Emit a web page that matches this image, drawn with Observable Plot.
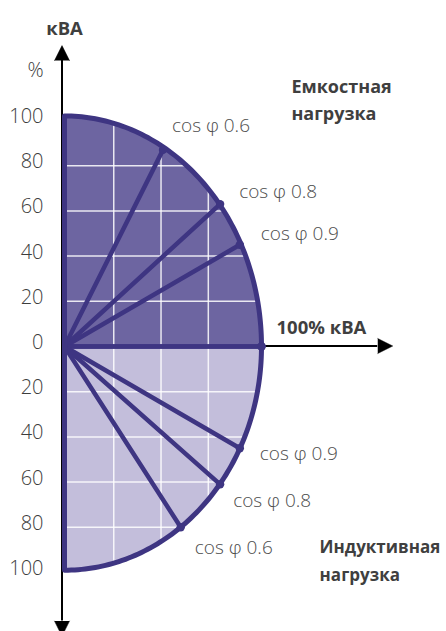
<!DOCTYPE html>
<html>
<head>
<meta charset="utf-8">
<script src="https://cdn.jsdelivr.net/npm/d3@7"></script>
<script src="https://cdn.jsdelivr.net/npm/@observablehq/plot@0.6"></script>
<style>
  html, body { margin: 0; padding: 0; background: #fff; }
  #chart { width: 446px; height: 631px; }
</style>
</head>
<body>
<div id="chart"></div>
<script>
// ---- data ----
const tickValues = [100, 80, 60, 40, 20, 0, -20, -40, -60, -80, -100];
const gridY = [80, 60, 40, 20, -20, -40, -60, -80];
const gridX = [25, 49, 73];

// 100% kVA boundary (x: active, y: reactive), per half
const kvaRadiusX = 100;
const capacitiveRadius = 102;
const inductiveRadius = 99;

// cos φ points, capacitive (upper) half
const capacitiveCos = [1, 0.9, 0.8, 0.6];
const capacitiveX = [100, 89, 79, 50];
const capacitiveY = [0, 45, 63, 87];

// cos φ points, inductive (lower) half
const inductiveCos = [1, 0.9, 0.8, 0.6];
const inductiveX = [100, 89, 79, 59];
const inductiveY = [0, -45, -61, -80];

const dark = "#6d65a1";
const light = "#c3bedb";
const ink = "#3e3582";
const textGrey = "#3f3f3f";

// ---- derived tables ----
const upperArc = d3.range(90, -0.5, -1).map(a => ({
  x: kvaRadiusX * Math.cos(a * Math.PI / 180),
  y: capacitiveRadius * Math.sin(a * Math.PI / 180)
}));
const lowerArc = d3.range(0, 90.5, 1).map(a => ({
  x: kvaRadiusX * Math.cos(a * Math.PI / 180),
  y: -inductiveRadius * Math.sin(a * Math.PI / 180)
}));
const outline = [...upperArc, ...lowerArc.slice(1)];

const points = [
  ...capacitiveCos.map((c, i) => ({cos: c, x: capacitiveX[i], y: capacitiveY[i], side: "cap", i})),
  ...inductiveCos.map((c, i) => ({cos: c, x: inductiveX[i], y: inductiveY[i], side: "ind", i}))
];
// label offsets (px) for cos φ labels
const labelOffsets = {
  cap: [null, [21, -11], [19, -12], [9, -24]],
  ind: [null, [20, 6], [13, 17], [14, 21]]
};
const labeled = points.filter(p => p.cos !== 1);

const hExtent = y => kvaRadiusX * Math.sqrt(Math.max(0, 1 - Math.pow(y / (y > 0 ? capacitiveRadius : inductiveRadius), 2)));
const vExtentUp = x => capacitiveRadius * Math.sqrt(1 - Math.pow(x / kvaRadiusX, 2));
const vExtentDown = x => -inductiveRadius * Math.sqrt(1 - Math.pow(x / kvaRadiusX, 2));

const font = "'Open Sans', Roboto, sans-serif";

const cosLabels = labeled.map(d => Plot.text([d], {
  x: "x", y: "y",
  text: p => "cos φ " + p.cos.toFixed(1),
  dx: labelOffsets[d.side][d.i][0],
  dy: labelOffsets[d.side][d.i][1],
  textAnchor: "start", fontSize: 19, fontWeight: 300, fill: "#4d4d4d"
}));

const chart = Plot.plot({
  width: 446,
  height: 631,
  margin: 0,
  x: {domain: [0, 100], range: [64, 261], axis: null},
  y: {domain: [-100, 100], range: [572, 120], axis: null},
  style: {fontFamily: font, background: "#fff"},
  marks: [
    // black axes
    Plot.ruleX([0], {y1: -121.5, y2: 126.5, stroke: "black", strokeWidth: 2, dx: -2.5}),
    Plot.ruleY([0], {x1: 0, x2: 159, stroke: "black", strokeWidth: 2, dy: -0.5}),
    Plot.vector([0], {x: 0, y: 126.5, dx: -2.5, length: 15, r: 7.5, rotate: 0, anchor: "start", shape: "spike", fill: "black", stroke: "black", strokeWidth: 0.5}),
    Plot.vector([0], {x: 159, y: 0, dy: -0.5, length: 15, r: 7.5, rotate: 90, anchor: "start", shape: "spike", fill: "black", stroke: "black", strokeWidth: 0.5}),
    Plot.vector([0], {x: 0, y: -121.5, dx: -2.5, length: 15, r: 7.5, rotate: 180, anchor: "start", shape: "spike", fill: "black", stroke: "black", strokeWidth: 0.5}),

    // fills
    Plot.area(upperArc, {x1: "x", y1: 0, y2: "y", fill: dark}),
    Plot.area(lowerArc, {x1: "x", y1: 0, y2: "y", fill: light}),

    // white grid
    Plot.ruleY(gridY, {x1: 0, x2: d => hExtent(d), stroke: "white", strokeWidth: 1.5, strokeOpacity: 0.85}),
    Plot.ruleX(gridX, {y1: d => vExtentDown(d), y2: d => vExtentUp(d), stroke: "white", strokeWidth: 1.5, strokeOpacity: 0.85}),

    // radial lines
    Plot.link(points, {x1: 0, y1: 0, x2: "x", y2: "y", stroke: ink, strokeWidth: 4.5, strokeLinecap: "round"}),

    // outline
    Plot.line(outline, {x: "x", y: "y", stroke: ink, strokeWidth: 5}),
    Plot.ruleX([0], {y1: -inductiveRadius, y2: capacitiveRadius, stroke: ink, strokeWidth: 5}),

    // dots
    Plot.dot(points, {x: "x", y: "y", r: 4.2, fill: ink}),

    // tick labels
    Plot.text(tickValues, {x: 0, y: d => d, text: d => String(Math.abs(d)), dx: -21, dy: -4, textAnchor: "end", fontSize: 20, fontWeight: 300, fill: "#3d3d3d"}),

    // cos φ labels
    ...cosLabels,

    // annotations
    Plot.text(["кВА"], {x: 0, y: 140.5, textAnchor: "middle", fontSize: 18.5, fontWeight: 700, fill: textGrey}),
    Plot.text(["%"], {x: 0, y: 122, dx: -29, textAnchor: "middle", fontSize: 20, fontWeight: 300, fill: "#3d3d3d"}),
    Plot.text(["100% кВА"], {x: 100, y: 0, dx: 15, dy: -18, textAnchor: "start", fontSize: 18.5, fontWeight: 700, fill: textGrey}),
    Plot.text(["Емкостная\nнагрузка"], {x: 115.2, y: 110, textAnchor: "start", lineHeight: 1.5, fontSize: 18, fontWeight: 700, fill: textGrey}),
    Plot.text(["Индуктивная\nнагрузка"], {x: 129.5, y: -93.6, textAnchor: "start", lineHeight: 1.65, fontSize: 17, fontWeight: 700, fill: textGrey})
  ]
});
document.getElementById("chart").appendChild(chart);
</script>
</body>
</html>
